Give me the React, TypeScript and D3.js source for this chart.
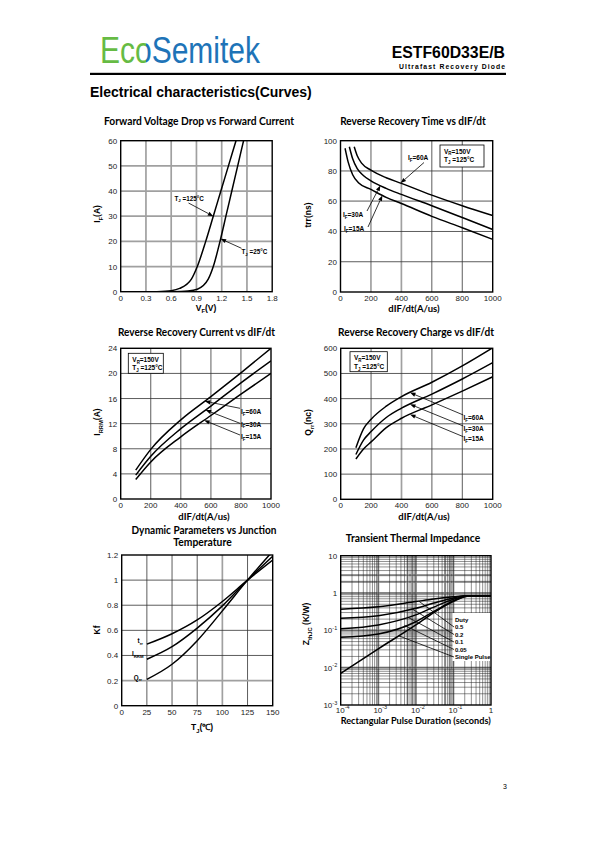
import React from 'react';
import * as d3 from 'd3';

const SANS = "'Liberation Sans', Arial, sans-serif";
const TITLE = "Lato, 'Open Sans', sans-serif";

// ---------- Chart 1: Forward voltage drop ----------
const vf125 = [0.43, 0.6, 0.7, 0.84, 0.91, 1.01, 1.10, 1.19, 1.28, 1.37];
const if125 = [0, 0.4, 1.3, 5, 10, 20, 30, 40, 50, 60];
const vf25 = [0.6, 0.8, 0.91, 1.04, 1.10, 1.18, 1.25, 1.32, 1.39, 1.46];
const if25 = [0, 0.3, 1, 5, 10, 20, 30, 40, 50, 60];
const vfTicks = [0, 0.3, 0.6, 0.9, 1.2, 1.5, 1.8];
const ifTicks = [0, 10, 20, 30, 40, 50, 60];

// ---------- Chart 2: trr vs dIF/dt ----------
const didtTicks = [0, 200, 400, 600, 800, 1000];
const trrTicks = [0, 20, 40, 60, 80, 100];
const trrX60 = [90, 110, 140, 200, 300, 400, 600, 800, 1000];
const trr60 = [96, 90, 85, 80.5, 75.5, 71.8, 64, 57, 50.5];
const trrX30 = [58, 80, 110, 150, 200, 300, 400, 600, 800, 1000];
const trr30 = [96, 88, 81.5, 77, 73.5, 68.5, 64.5, 57, 49.2, 41.3];
const trrX15 = [30, 50, 80, 120, 200, 300, 400, 600, 800, 1000];
const trr15 = [95, 86, 77.5, 72, 67.8, 62.5, 58.5, 50, 42.5, 34.8];

// ---------- Chart 3: IRRM vs dIF/dt ----------
const irrmTicks = [0, 4, 8, 12, 16, 20, 24];
const irrmX = [100, 200, 400, 600, 800, 1000];
const irrm60 = [4.6, 7.9, 12.6, 16.3, 20.1, 24];
const irrm30 = [3.8, 6.8, 11.2, 14.8, 18.5, 22];
const irrm15 = [3.1, 5.9, 9.9, 13.3, 16.7, 20];

// ---------- Chart 4: Qrr vs dIF/dt ----------
const qrrTicks = [0, 100, 200, 300, 400, 500, 600];
const qrrX = [100, 150, 200, 300, 400, 600, 800, 1000];
const qrr60 = [205, 280, 318, 370, 408, 465, 530, 602];
const qrr30 = [178, 235, 269, 325, 362, 418, 478, 543];
const qrr15 = [160, 200, 228, 285, 322, 375, 430, 487];

// ---------- Chart 5: Kf vs Tj ----------
const tjTicks = [0, 25, 50, 75, 100, 125, 150];
const kfTicks = [0, 0.2, 0.4, 0.6, 0.8, 1, 1.2];
const tjX = [25, 50, 75, 100, 125, 150];
const kfTrr = [0.49, 0.573, 0.683, 0.83, 1.0, 1.16];
const kfIrrm = [0.37, 0.47, 0.618, 0.795, 1.0, 1.19];
const kfQrr = [0.21, 0.33, 0.518, 0.755, 1.0, 1.23];

// ---------- Chart 6: Transient thermal impedance ----------
const pulseT = [1e-4, 1e-3, 1e-2, 3e-2, 0.1, 0.2, 0.3, 1];
const zDuty05 = [0.37, 0.43, 0.59, 0.69, 0.79, 0.84, 0.845, 0.845];
const zDuty02 = [0.21, 0.245, 0.39, 0.54, 0.74, 0.83, 0.845, 0.845];
const zDuty01 = [0.11, 0.14, 0.26, 0.42, 0.68, 0.82, 0.845, 0.845];
const zDuty005 = [0.065, 0.08, 0.17, 0.32, 0.62, 0.81, 0.845, 0.845];
const zSingle = [0.007, 0.032, 0.14, 0.3, 0.6, 0.79, 0.845, 0.845];
const dutyLabels = ['0.5', '0.2', '0.1', '0.05', 'Single Pulse'];
const dutyTipT = [0.012, 0.008, 0.006, 0.005, 0.0035];
const tTickExp = [-4, -3, -2, -1, 0];
const zTickExp = [-3, -2, -1, 0, 1];
// minor grid multipliers drawn as heavier gray bands (as on the printed sheet)
const grayBandX = [1e-3, 6e-3, 8e-3, 1e-2, 6e-2, 8e-2, 1e-1];
const grayBandY = [2, 3, 1, 0.1, 0.01];

type Part = [string, 'n' | 's' | 'u'];

function interp(xs: number[], ys: number[], v: number) {
  for (let i = 0; i < xs.length - 1; i++) {
    if (v >= xs[i] && v <= xs[i + 1]) {
      const t = (v - xs[i]) / (xs[i + 1] - xs[i]);
      return ys[i] + t * (ys[i + 1] - ys[i]);
    }
  }
  return ys[ys.length - 1];
}

function Rich({ x, y, parts, size, anchor = 'start', weight = 'bold', rotate = false, family = SANS }:
  { x: number; y: number; parts: Part[]; size: number; anchor?: string; weight?: string; rotate?: boolean; family?: string }) {
  let shift = 0;
  const kids = parts.map(([t, k], i) => {
    const target = k === 's' ? size * 0.3 : k === 'u' ? -size * 0.4 : 0;
    const dy = target - shift;
    shift = target;
    return (
      <tspan key={i} dy={dy} fontSize={k === 'n' ? size : size * 0.68}>{t}</tspan>
    );
  });
  return (
    <text x={x} y={y} textAnchor={anchor as any} fontWeight={weight} fontFamily={family} fontSize={size} fill="#000"
      transform={rotate ? `rotate(-90 ${x} ${y})` : undefined}>{kids}</text>
  );
}

function Arrow({ x1, y1, x2, y2 }: { x1: number; y1: number; x2: number; y2: number }) {
  const ang = Math.atan2(y2 - y1, x2 - x1);
  const L = 5.5, Wd = 2.1;
  const bx = x2 - L * Math.cos(ang), by = y2 - L * Math.sin(ang);
  const px = -Math.sin(ang) * Wd, py = Math.cos(ang) * Wd;
  return (
    <g>
      <line x1={x1} y1={y1} x2={bx} y2={by} stroke="#000" strokeWidth={0.8} />
      <path d={`M${x2},${y2}L${bx + px},${by + py}L${bx - px},${by - py}Z`} fill="#000" />
    </g>
  );
}

type Lin = d3.ScaleLinear<number, number>;

function LinearPlot(props: {
  id: string; left: number; top: number; width: number; height: number;
  xDomain: [number, number]; yDomain: [number, number];
  xTicks: number[]; yTicks: number[];
  xFmt: (v: number) => string; yFmt: (v: number) => string;
  series: { xs: number[]; ys: number[] }[];
  grayX?: number[]; grayY?: number[];
  annot?: (x: Lin, y: Lin) => React.ReactNode;
}) {
  const { left, top, width, height } = props;
  const x = d3.scaleLinear().domain(props.xDomain).range([left, left + width]);
  const y = d3.scaleLinear().domain(props.yDomain).range([top + height, top]);
  const line = d3.line<[number, number]>().x(d => x(d[0])).y(d => y(d[1])).curve(d3.curveMonotoneX);
  const gx = props.grayX || [];
  const gy = props.grayY || [];
  const inner = (t: number[], dom: [number, number]) => t.filter(v => v !== dom[0] && v !== dom[1]);
  return (
    <g>
      <defs>
        <clipPath id={props.id}>
          <rect x={left} y={top} width={width} height={height} />
        </clipPath>
      </defs>
      <rect x={left} y={top} width={width} height={height} fill="#fff" />
      {inner(props.xTicks, props.xDomain).map(v => (
        <line key={'gx' + v} x1={x(v)} x2={x(v)} y1={top} y2={top + height}
          stroke={gx.includes(v) ? '#a0a0a0' : '#333'} strokeWidth={gx.includes(v) ? 1.7 : 0.8} />
      ))}
      {inner(props.yTicks, props.yDomain).map(v => (
        <line key={'gy' + v} y1={y(v)} y2={y(v)} x1={left} x2={left + width}
          stroke={gy.includes(v) ? '#a0a0a0' : '#333'} strokeWidth={gy.includes(v) ? 1.7 : 0.8} />
      ))}
      <g clipPath={`url(#${props.id})`}>
        {props.series.map((s, i) => (
          <path key={i} d={line(s.xs.map((v, j) => [v, s.ys[j]] as [number, number])) || ''}
            fill="none" stroke="#000" strokeWidth={1.5} />
        ))}
      </g>
      <rect x={left} y={top} width={width} height={height} fill="none" stroke="#000" strokeWidth={1.4} />
      {props.xTicks.map(v => (
        <text key={'tx' + v} x={x(v)} y={top + height + 9} textAnchor="middle" fontFamily={SANS} fontSize={8} fill="#222">
          {props.xFmt(v)}
        </text>
      ))}
      {props.yTicks.map(v => (
        <text key={'ty' + v} x={left - 3.5} y={y(v) + 3} textAnchor="end" fontFamily={SANS} fontSize={8} fill="#222">
          {props.yFmt(v)}
        </text>
      ))}
      {props.annot ? props.annot(x, y) : null}
    </g>
  );
}

function CondBox({ x, y, w, h }: { x: number; y: number; w: number; h: number }) {
  return (
    <g>
      <rect x={x} y={y} width={w} height={h} fill="#fff" stroke="#000" strokeWidth={0.8} />
      <Rich x={x + 4} y={y + 8.5} size={6.5} parts={[['V', 'n'], ['R', 's'], ['=150V', 'n']]} />
      <Rich x={x + 4} y={y + 17} size={6.5} parts={[['T', 'n'], ['J', 's'], [' =125°C', 'n']]} />
    </g>
  );
}

function ThermalPlot() {
  const left = 340.7, top = 555.7, w = 150.3, h = 149.3;
  const x = d3.scaleLog().domain([1e-4, 1]).range([left, left + w]);
  const y = d3.scaleLog().domain([1e-3, 10]).range([top + h, top]);
  const line = d3.line<[number, number]>().x(d => x(d[0])).y(d => y(d[1])).curve(d3.curveMonotoneX);
  const minorX: number[] = [];
  for (let e = -4; e <= -1; e++) for (let m = 2; m <= 9; m++) minorX.push(m * Math.pow(10, e));
  const minorY: number[] = [];
  for (let e = -3; e <= 0; e++) for (let m = 2; m <= 9; m++) minorY.push(m * Math.pow(10, e));
  const series = [zDuty05, zDuty02, zDuty01, zDuty005, zSingle];
  const labelY = [627, 634.5, 642, 649.5, 657];
  const boxX = 452.5;
  return (
    <g>
      <defs>
        <clipPath id="clip6"><rect x={left} y={top} width={w} height={h} /></clipPath>
        <clipPath id="clip6b"><rect x={left} y={top} width={boxX - left + 1.5} height={h} /></clipPath>
      </defs>
      <rect x={left} y={top} width={w} height={h} fill="#fff" />
      {grayBandX.map((v, i) => (
        <line key={'bx' + i} x1={x(v)} x2={x(v)} y1={top} y2={top + h} stroke="#b0b0b0" strokeWidth={2.2} />
      ))}
      {grayBandY.map((v, i) => (
        <line key={'by' + i} y1={y(v)} y2={y(v)} x1={left} x2={left + w} stroke="#b0b0b0" strokeWidth={2.2} />
      ))}
      {minorX.map((v, i) => (
        <line key={'nx' + i} x1={x(v)} x2={x(v)} y1={top} y2={top + h} stroke="#222" strokeWidth={0.5} />
      ))}
      {minorY.map((v, i) => (
        <line key={'ny' + i} y1={y(v)} y2={y(v)} x1={left} x2={left + w} stroke="#222" strokeWidth={0.5} />
      ))}
      {[-3, -2, -1].map(e => (
        <line key={'kx' + e} x1={x(Math.pow(10, e))} x2={x(Math.pow(10, e))} y1={top} y2={top + h} stroke="#222" strokeWidth={0.6} />
      ))}
      {[-2, -1, 0].map(e => (
        <line key={'ky' + e} y1={y(Math.pow(10, e))} y2={y(Math.pow(10, e))} x1={left} x2={left + w} stroke="#222" strokeWidth={0.6} />
      ))}
      <rect x={boxX} y={613} width={left + w - boxX} height={48} fill="#fff" />
      <g clipPath="url(#clip6)">
        {series.map((s, i) => (
          <path key={i} d={line(pulseT.map((t, j) => [t, s[j]] as [number, number])) || ''} fill="none" stroke="#000" strokeWidth={1.5} />
        ))}
      </g>
      <g clipPath="url(#clip6b)">
        {series.map((s, i) => {
          const lt = Math.log10(dutyTipT[i]);
          const ly = interp(pulseT.map(Math.log10), s.map(Math.log10), lt);
          const tx = x(dutyTipT[i]);
          const ty = y(Math.pow(10, ly));
          return <line key={'ld' + i} x1={tx} y1={ty} x2={boxX + 1.5} y2={labelY[i]} stroke="#000" strokeWidth={0.8} />;
        })}
      </g>
      <text x={boxX + 2.5} y={621.5} fontFamily={SANS} fontWeight="bold" fontSize={6}>Duty</text>
      {dutyLabels.map((l, i) => (
        <text key={l} x={boxX + 2.5} y={labelY[i] + 2.2} fontFamily={SANS} fontWeight="bold" fontSize={6}>{l}</text>
      ))}
      <rect x={left} y={top} width={w} height={h} fill="none" stroke="#000" strokeWidth={1.4} />
      {zTickExp.map(e => (
        e === 0 ? (
          <text key={'zy' + e} x={left - 3.5} y={y(1) + 3} textAnchor="end" fontFamily={SANS} fontSize={8} fill="#222">1</text>
        ) : e === 1 ? (
          <text key={'zy' + e} x={left - 3.5} y={y(10) + 3} textAnchor="end" fontFamily={SANS} fontSize={8} fill="#222">10</text>
        ) : (
          <text key={'zy' + e} x={left - 3.5} y={y(Math.pow(10, e)) + 3} textAnchor="end" fontFamily={SANS} fontSize={8} fill="#222">
            10<tspan dy={-3.5} fontSize={5.5}>{'-' + Math.abs(e)}</tspan>
          </text>
        )
      ))}
      {tTickExp.map(e => (
        e === 0 ? (
          <text key={'tx' + e} x={x(1)} y={top + h + 7.5} textAnchor="middle" fontFamily={SANS} fontSize={8} fill="#222">1</text>
        ) : (
          <text key={'tx' + e} x={x(Math.pow(10, e)) + 2} y={top + h + 7.5} textAnchor="middle" fontFamily={SANS} fontSize={8} fill="#222">
            10<tspan dy={-3.2} fontSize={5.5}>{'-' + Math.abs(e)}</tspan>
          </text>
        )
      ))}
    </g>
  );
}

function ChartTitle({ x, y, text, len }: { x: number; y: number; text: string; len: number }) {
  return (
    <text x={x} y={y} textAnchor="middle" fontFamily={TITLE} fontWeight="bold" fontSize={10.5} fill="#000"
      textLength={len} lengthAdjust="spacingAndGlyphs">{text}</text>
  );
}

const fmt1 = (v: number) => (v === 0 ? '0' : v.toFixed(1));
const fmtInt = (v: number) => String(v);
const fmtKf = (v: number) => (v === 0 ? '0' : v === 1 ? '1' : String(v));

export default function App() {
  return (
    <svg width={595} height={842} style={{ position: 'absolute', left: 0, top: 0, background: '#fff' }}>
      <defs>
        <linearGradient id="logoFill" gradientUnits="userSpaceOnUse" x1={100} y1={0} x2={260} y2={0}>
          <stop offset="0" stopColor="#66bb44" />
          <stop offset="0.29" stopColor="#66bb44" />
          <stop offset="0.29" stopColor="#1f73b7" />
          <stop offset="1" stopColor="#1f73b7" />
        </linearGradient>
      </defs>
      {/* Header */}
      <text x={100} y={63.3} fontFamily={SANS} fontSize={37} textLength={160} lengthAdjust="spacingAndGlyphs"
        fill="url(#logoFill)">EcoSemitek</text>
      <text x={505} y={58.3} textAnchor="end" fontFamily={SANS} fontWeight="bold" fontSize={15.8}>ESTF60D33E/B</text>
      <text x={505} y={69} textAnchor="end" fontFamily={SANS} fontWeight="bold" fontSize={6.8} textLength={106}
        lengthAdjust="spacing">Ultrafast  Recovery  Diode</text>
      <rect x={90} y={72.8} width={416} height={2.2} fill="#000" />
      <text x={90} y={96.7} fontFamily={SANS} fontWeight="bold" fontSize={14}>Electrical characteristics(Curves)</text>

      {/* Chart 1 */}
      <ChartTitle x={199} y={124.5} text="Forward Voltage Drop vs Forward Current" len={190} />
      <LinearPlot id="c1" left={120.7} top={140.7} width={151.5} height={151}
        xDomain={[0, 1.8]} yDomain={[0, 60]} xTicks={vfTicks} yTicks={ifTicks} xFmt={fmt1} yFmt={fmtInt}
        series={[{ xs: vf125, ys: if125 }, { xs: vf25, ys: if25 }]}
        grayX={[0.3, 0.6, 0.9, 1.2, 1.5]} grayY={[10, 20, 30, 40, 50]}
        annot={(x, y) => (
          <g>
            <Arrow x1={188.5} y1={203} x2={x(interp(if125, vf125, 30))} y2={y(30)} />
            <Rich x={174.5} y={200.5} size={6.3} parts={[['T', 'n'], ['J', 's'], [' =125°C', 'n']]} />
            <Arrow x1={241.5} y1={248.3} x2={x(interp(if25, vf25, 21))} y2={y(21)} />
            <Rich x={241.5} y={254} size={6.3} parts={[['T', 'n'], ['J', 's'], [' =25°C', 'n']]} />
          </g>
        )} />
      <Rich x={206} y={310.5} size={8.5} anchor="middle" parts={[['V', 'n'], ['F', 's'], ['(V)', 'n']]} />
      <Rich x={100} y={214} size={8.5} anchor="middle" rotate parts={[['I', 'n'], ['F', 's'], ['(A)', 'n']]} />

      {/* Chart 2 */}
      <ChartTitle x={413} y={125} text="Reverse Recovery Time vs dIF/dt" len={145.7} />
      <LinearPlot id="c2" left={340.5} top={140.7} width={152.2} height={151.3}
        xDomain={[0, 1000]} yDomain={[0, 100]} xTicks={didtTicks} yTicks={trrTicks} xFmt={fmtInt} yFmt={fmtInt}
        series={[{ xs: trrX60, ys: trr60 }, { xs: trrX30, ys: trr30 }, { xs: trrX15, ys: trr15 }]}
        grayX={[200, 400]} grayY={[60]}
        annot={(x, y) => (
          <g>
            <CondBox x={440} y={145} w={44} h={22} />
            <Arrow x1={424} y1={162.5} x2={x(395)} y2={y(interp(trrX60, trr60, 395))} />
            <Rich x={408} y={160} size={6.5} parts={[['I', 'n'], ['F', 's'], ['=60A', 'n']]} />
            <Arrow x1={367} y1={211} x2={x(262)} y2={y(interp(trrX30, trr30, 262))} />
            <Rich x={343} y={217} size={6.5} parts={[['I', 'n'], ['F', 's'], ['=30A', 'n']]} />
            <Arrow x1={368} y1={227} x2={x(275)} y2={y(interp(trrX15, trr15, 275))} />
            <Rich x={344} y={231} size={6.5} parts={[['I', 'n'], ['F', 's'], ['=15A', 'n']]} />
          </g>
        )} />
      <text x={414} y={312} textAnchor="middle" fontFamily={TITLE} fontWeight="bold" fontSize={9.5}>dIF/dt(A/us)</text>
      <text x={311} y={215} textAnchor="middle" fontFamily={SANS} fontWeight="bold" fontSize={8.5}
        transform="rotate(-90 311 215)">trr(ns)</text>

      {/* Chart 3 */}
      <ChartTitle x={196.5} y={335.7} text="Reverse Recovery Current vs dIF/dt" len={157} />
      <LinearPlot id="c3" left={120.7} top={348.3} width={150.3} height={150.7}
        xDomain={[0, 1000]} yDomain={[0, 24]} xTicks={didtTicks} yTicks={irrmTicks} xFmt={fmtInt} yFmt={fmtInt}
        series={[{ xs: irrmX, ys: irrm60 }, { xs: irrmX, ys: irrm30 }, { xs: irrmX, ys: irrm15 }]}
        grayX={[600]}
        annot={(x, y) => (
          <g>
            <CondBox x={128.3} y={353.3} w={35} h={20} />
            <Arrow x1={240} y1={408.3} x2={x(560)} y2={y(interp(irrmX, irrm60, 560))} />
            <Rich x={241} y={414} size={6.5} parts={[['I', 'n'], ['F', 's'], ['=60A', 'n']]} />
            <Arrow x1={240} y1={423.3} x2={x(565)} y2={y(interp(irrmX, irrm30, 565))} />
            <Rich x={241} y={426.5} size={6.5} parts={[['I', 'n'], ['F', 's'], ['=30A', 'n']]} />
            <Arrow x1={240} y1={435} x2={x(555)} y2={y(interp(irrmX, irrm15, 555))} />
            <Rich x={241} y={439} size={6.5} parts={[['I', 'n'], ['F', 's'], ['=15A', 'n']]} />
          </g>
        )} />
      <text x={204} y={520} textAnchor="middle" fontFamily={TITLE} fontWeight="bold" fontSize={9.5}>dIF/dt(A/us)</text>
      <Rich x={100} y={422} size={8.5} anchor="middle" rotate parts={[['I', 'n'], ['RRM', 's'], ['(A)', 'n']]} />

      {/* Chart 4 */}
      <ChartTitle x={416} y={335.7} text="Reverse Recovery  Charge vs dIF/dt" len={156} />
      <LinearPlot id="c4" left={340.7} top={348.3} width={152} height={151}
        xDomain={[0, 1000]} yDomain={[0, 600]} xTicks={didtTicks} yTicks={qrrTicks} xFmt={fmtInt} yFmt={fmtInt}
        series={[{ xs: qrrX, ys: qrr60 }, { xs: qrrX, ys: qrr30 }, { xs: qrrX, ys: qrr15 }]}
        grayX={[200, 400]}
        annot={(x, y) => (
          <g>
            <CondBox x={350} y={351.7} w={37.3} h={20} />
            <Arrow x1={463.3} y1={415} x2={x(456)} y2={y(interp(qrrX, qrr60, 456))} />
            <Rich x={463.5} y={419.6} size={6.5} parts={[['I', 'n'], ['F', 's'], ['=60A', 'n']]} />
            <Arrow x1={463.3} y1={426} x2={x(456)} y2={y(interp(qrrX, qrr30, 456))} />
            <Rich x={463.5} y={430.6} size={6.5} parts={[['I', 'n'], ['F', 's'], ['=30A', 'n']]} />
            <Arrow x1={463.3} y1={436.7} x2={x(456)} y2={y(interp(qrrX, qrr15, 456))} />
            <Rich x={463.5} y={440.6} size={6.5} parts={[['I', 'n'], ['F', 's'], ['=15A', 'n']]} />
          </g>
        )} />
      <text x={424} y={520} textAnchor="middle" fontFamily={TITLE} fontWeight="bold" fontSize={9.5}>dIF/dt(A/us)</text>
      <Rich x={311} y={422.5} size={8.5} anchor="middle" rotate parts={[['Q', 'n'], ['rr', 's'], ['(nc)', 'n']]} />

      {/* Chart 5 */}
      <ChartTitle x={204} y={534.3} text="Dynamic Parameters vs Junction" len={145} />
      <ChartTitle x={202.5} y={546} text="Temperature" len={58.3} />
      <LinearPlot id="c5" left={121.7} top={555} width={151} height={150.7}
        xDomain={[0, 150]} yDomain={[0, 1.2]} xTicks={tjTicks} yTicks={kfTicks} xFmt={fmtInt} yFmt={fmtKf}
        series={[{ xs: tjX, ys: kfTrr }, { xs: tjX, ys: kfIrrm }, { xs: tjX, ys: kfQrr }]}
        grayX={[100]} grayY={[0.2]}
        annot={() => (
          <g>
            <Rich x={143} y={643} size={6.3} anchor="end" parts={[['t', 'n'], ['rr', 's']]} />
            <Rich x={143.5} y={656} size={6.3} anchor="end" parts={[['I', 'n'], ['RRM', 's']]} />
            <Rich x={142} y={679.5} size={6.3} anchor="end" parts={[['Q', 'n'], ['rr', 's']]} />
          </g>
        )} />
      <Rich x={202} y={730} size={8.5} anchor="middle" parts={[['T', 'n'], ['J', 's'], ['(℃)', 'n']]} />
      <text x={100} y={630} textAnchor="middle" fontFamily={SANS} fontWeight="bold" fontSize={8.5}
        transform="rotate(-90 100 630)">Kf</text>

      {/* Chart 6 */}
      <ChartTitle x={413} y={541.7} text="Transient Thermal Impedance" len={134.3} />
      <ThermalPlot />
      <text x={415.7} y={724} textAnchor="middle" fontFamily={TITLE} fontWeight="bold" fontSize={9}
        textLength={150} lengthAdjust="spacingAndGlyphs">Rectangular Pulse Duration (seconds)</text>
      <Rich x={309} y={624} size={8.5} anchor="middle" rotate parts={[['Z', 'n'], ['thJC', 's'], [' (K/W)', 'n']]} />

      <text x={503} y={789} fontFamily={SANS} fontSize={7}>3</text>
    </svg>
  );
}
